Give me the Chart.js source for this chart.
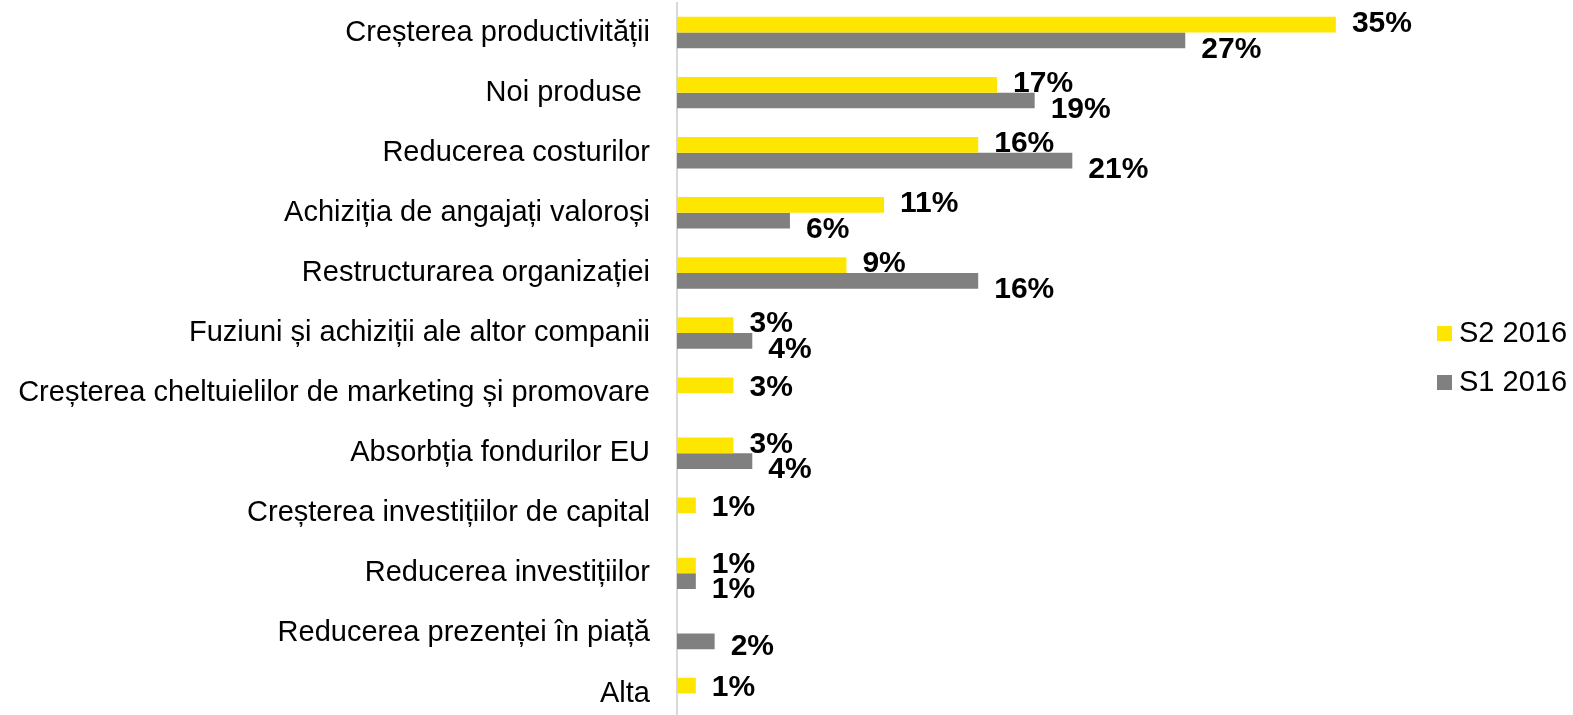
<!DOCTYPE html>
<html>
<head>
<meta charset="utf-8">
<script src="https://cdn.jsdelivr.net/npm/chart.js@4/dist/chart.umd.min.js"></script>
<style>
  html, body { margin: 0; padding: 0; background: #fff; overflow: hidden; }
  #wrap { width: 1573px; height: 726px; position: relative; }
</style>
</head>
<body>
<div id="wrap"><canvas id="driversChart"></canvas></div>
<script>
const categories = [
    'Creșterea productivității',
    'Noi produse ',
    'Reducerea costurilor',
    'Achiziția de angajați valoroși',
    'Restructurarea organizației',
    'Fuziuni și achiziții ale altor companii',
    'Creșterea cheltuielilor de marketing și promovare',
    'Absorbția fondurilor EU',
    'Creșterea investițiilor de capital',
    'Reducerea investițiilor',
    'Reducerea prezenței în piață',
    'Alta'
];
const s2_2016 = [35, 17, 16, 11, 9, 3, 3, 3, 1, 1, null, 1];
const s1_2016 = [27, 19, 21, 6, 16, 4, null, 4, null, 1, 2, null];
const seriesNames = ['S2 2016', 'S1 2016'];
const seriesColors = ['#FFE600', '#808080'];

const fontFamily = "Arial, 'Liberation Sans', sans-serif";

// value labels drawn next to each bar end
const valueLabels = {
    id: 'valueLabels',
    afterDatasetsDraw(chart) {
        const ctx = chart.ctx;
        ctx.save();
        ctx.font = 'bold 30px ' + fontFamily;
        ctx.fillStyle = '#000';
        ctx.textBaseline = 'middle';
        ctx.textAlign = 'left';
        chart.data.datasets.forEach((ds, di) => {
            const meta = chart.getDatasetMeta(di);
            meta.data.forEach((bar, i) => {
                const v = ds.data[i];
                if (v === null || v === undefined) return;
                const other = chart.data.datasets[1 - di].data[i];
                const paired = other !== null && other !== undefined;
                let dy = 2;
                if (di === 0) dy += paired ? -3 : 0;
                else dy += paired ? 7 : 3;
                ctx.fillText(v + '%', bar.x + 16, bar.y + dy);
            });
        });
        ctx.restore();
    }
};

// legend on the right, square markers
const sideLegend = {
    id: 'sideLegend',
    afterDraw(chart) {
        const ctx = chart.ctx;
        ctx.save();
        ctx.font = '29px ' + fontFamily;
        ctx.textBaseline = 'middle';
        ctx.textAlign = 'left';
        seriesNames.forEach((name, i) => {
            const y = 333.5 + i * 49;
            ctx.fillStyle = seriesColors[i];
            ctx.fillRect(1437, y - 7.5, 15, 15);
            ctx.fillStyle = '#000';
            ctx.fillText(name, 1459, y);
        });
        ctx.restore();
    }
};

const ctx = document.getElementById('driversChart').getContext('2d');
const driversChart = new Chart(ctx, {
    type: 'bar',
    data: {
        labels: categories,
        datasets: [{
            label: seriesNames[0],
            data: s2_2016,
            backgroundColor: seriesColors[0],
            categoryPercentage: 0.523,
            barPercentage: 1
        }, {
            label: seriesNames[1],
            data: s1_2016,
            backgroundColor: seriesColors[1],
            categoryPercentage: 0.523,
            barPercentage: 1
        }]
    },
    options: {
        indexAxis: 'y',
        responsive: true,
        maintainAspectRatio: false,
        animation: false,
        layout: {
            padding: { top: 2.5, bottom: 2.4, right: 143, left: 0 }
        },
        plugins: {
            legend: { display: false },
            tooltip: { enabled: false }
        },
        scales: {
            x: {
                display: false,
                min: 0,
                max: 40
            },
            y: {
                afterFit(scale) {
                    scale.width = 677; // keeps the axis line where the reference has it
                    scale.paddingTop = 0;
                    scale.paddingBottom = 0;
                },
                grid: {
                    display: false,
                    drawTicks: false
                },
                border: {
                    display: true,
                    color: '#d9d9d9',
                    width: 2
                },
                ticks: {
                    color: '#000',
                    padding: 27,
                    font: { size: 29, family: fontFamily }
                }
            }
        }
    },
    plugins: [valueLabels, sideLegend]
});
</script>
</body>
</html>
